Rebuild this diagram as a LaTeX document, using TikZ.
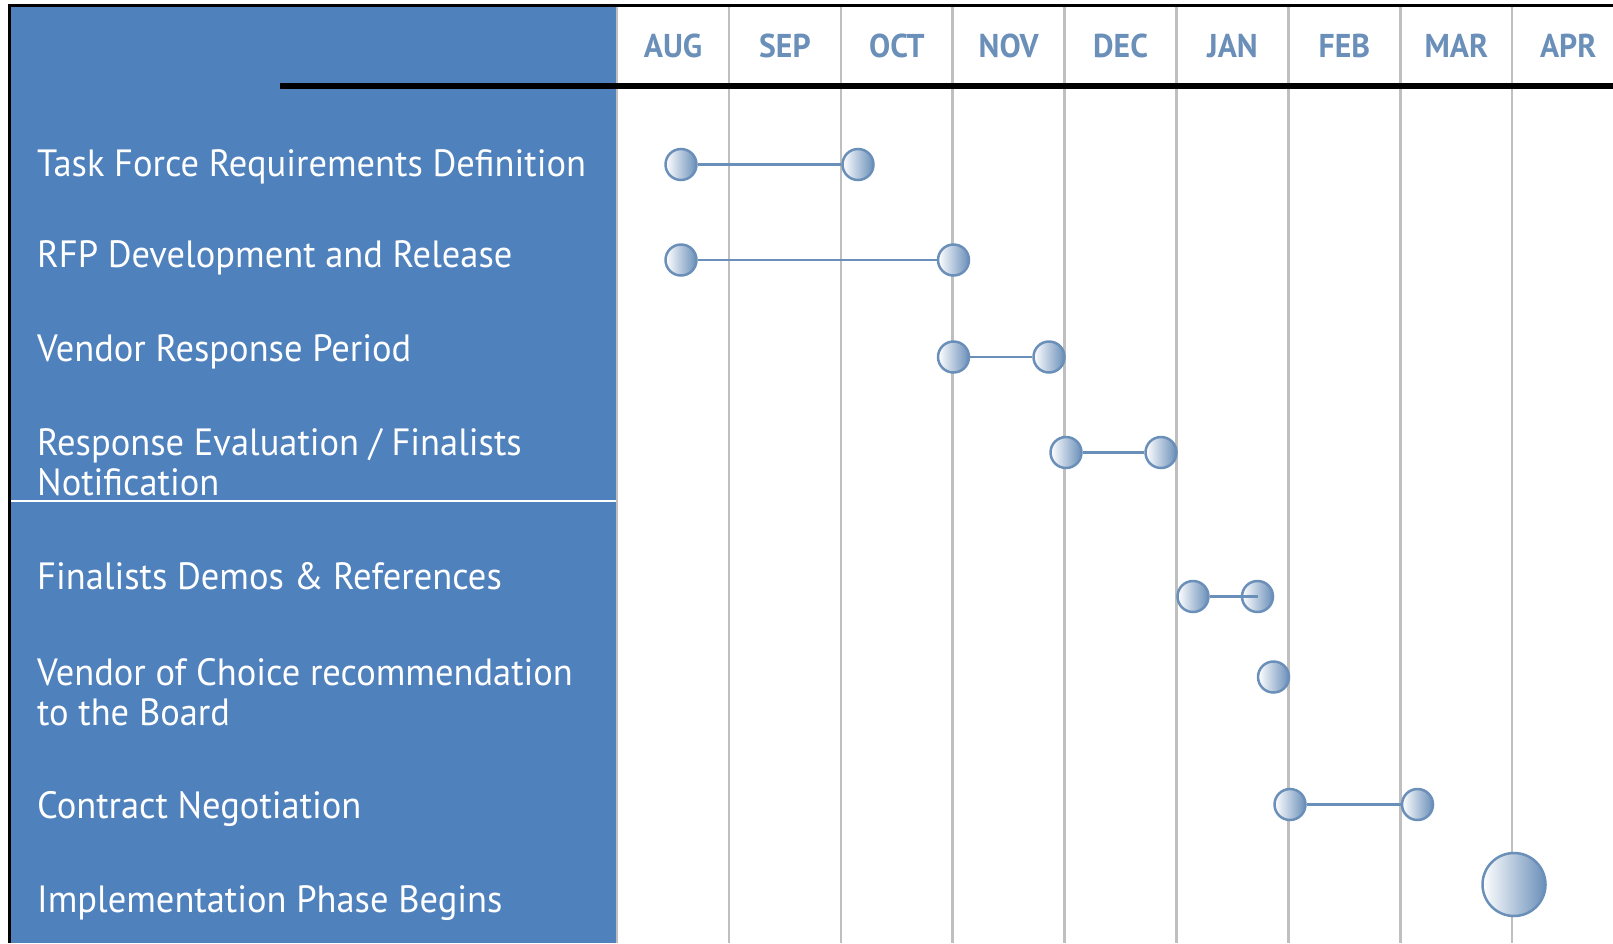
\documentclass[tikz,border=0pt]{standalone}
\usepackage{fontspec}
\setmainfont{PT Sans}[FakeStretch=0.96]
\usetikzlibrary{positioning}
\definecolor{panelblu}{HTML}{4F81BD}
\definecolor{acciaio}{HTML}{6A8FB9}
\definecolor{griglia}{HTML}{BFBFBF}

\begin{document}
\begin{tikzpicture}[x=1pt,y=-1pt,
    fase/.style={anchor=base west,inner sep=0pt,text=white,align=left,
      font=\fontsize{38}{40}\selectfont},
    mese/.style={text=acciaio,font=\fontsize{33}{33}\selectfont\bfseries},
    tappa/.style={circle,draw=acciaio,line width=2.5pt,left color=white,
      right color=acciaio,minimum size=31pt,inner sep=0pt},
    legame/.style={acciaio,line width=2.8pt}]
    \useasboundingbox (0,0) rectangle (1613,943);
    %pannello
    \fill[panelblu] (10,7) rectangle (616,943);
    \draw[white,line width=1.5pt] (10,501) -- (616,501);
    \draw[line width=3pt] (9,943) -- (9,5.5) -- (1613,5.5);
    %griglia mesi
    \foreach \m [count=\k from 0] in {AUG,SEP,OCT,NOV,DEC,JAN,FEB,MAR,APR}
    {
        \draw[griglia,line width=2.5pt] (617+111.9*\k,7) -- (617+111.9*\k,943);
        \node[mese] (m\k) at (673+111.9*\k,46) {\m};
    }
    \draw[line width=6pt] (280,85.5) -- (1613,85.5);
    %fasi (base = ultima riga)
    \node[fase] (t1) at (37,176) {Task Force Requirements Definition};
    \node[fase] (t2) at (37,267.5) {RFP Development and Release};
    \node[fase] (t3) at (37,361) {Vendor Response Period};
    \node[fase] (t4) at (37,495.8) {Response Evaluation / Finalists\\Notification};
    \node[fase] (t5) at (37,589.4) {Finalists Demos \& References};
    \node[fase] (t6) at (37,725) {Vendor of Choice recommendation\\to the Board};
    \node[fase] (t7) at (37,818.8) {Contract Negotiation};
    \node[fase] (t8) at (37,912.5) {Implementation Phase Begins};
    %tappe
    \node[tappa] (a1) at (681,164.5) {};
    \node[tappa] (b1) at (858,164.5) {};
    \node[tappa] (a2) at (681,260) {};
    \node[tappa] (b2) at (953.5,260) {};
    \node[tappa] (a3) at (953.5,357) {};
    \node[tappa] (b3) at (1049,357) {};
    \node[tappa] (a4) at (1066,452.5) {};
    \node[tappa] (b4) at (1161,452.5) {};
    \node[tappa] (a5) at (1193,596.5) {};
    \node[tappa] (b5) at (1257.5,596.5) {};
    \node[tappa] (a6) at (1273.5,677) {};
    \node[tappa] (a7) at (1290,804.5) {};
    \node[tappa] (b7) at (1417.5,804.5) {};
    \node[tappa,minimum size=63pt] (a8) at (1514,884.5) {};
    %legami
    \draw[legame] (a1) -- (b1);
    \draw[legame] (a2) -- (b2);
    \draw[legame] (a3) -- (b3);
    \draw[legame] (a4) -- (b4);
    \draw[legame] (a5) -- (b5.center);
    \draw[legame] (a7) -- (b7);
\end{tikzpicture}
\end{document}
